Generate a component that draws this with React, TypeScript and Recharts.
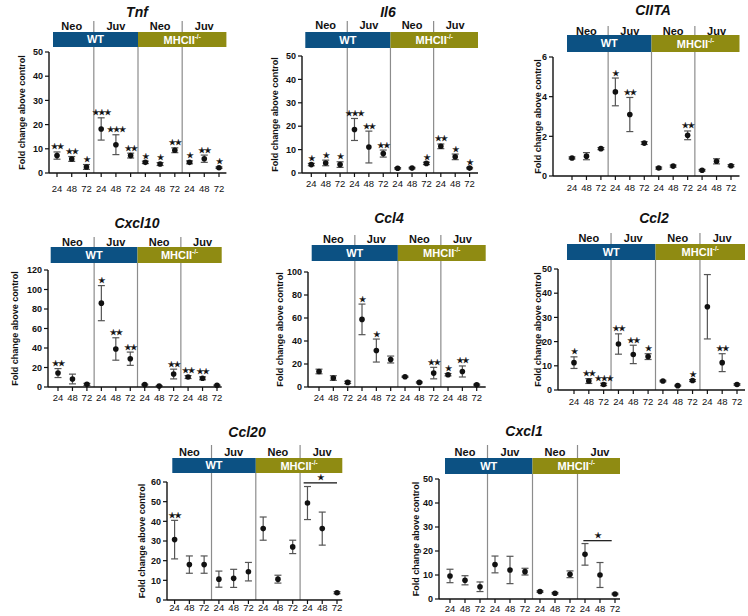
import React from 'react';
import { ComposedChart, Scatter, ErrorBar, XAxis, YAxis, ReferenceArea, ReferenceLine } from 'recharts';

const timeLabels = ['24', '48', '72'];
const stageLabels = ['Neo', 'Juv', 'Neo', 'Juv'];
const positions = [1, 2, 3, 4, 5, 6, 7, 8, 9, 10, 11, 12];

const tnfMean = [7.2, 5.8, 2.5, 18.2, 11.7, 7.2, 4.4, 3.7, 9.4, 4.4, 5.9, 2.2];
const tnfErr = [1.5, 1.0, 1.0, 4.6, 4.1, 1.0, 0.5, 0.6, 1.0, 0.6, 1.5, 0.3];
const tnfSig = ['**', '**', '*', '***', '***', '**', '*', '*', '**', '*', '**', '*'];

const il6Mean = [3.6, 4.3, 3.6, 18.6, 11.1, 8.3, 2.0, 2.1, 4.1, 11.4, 6.9, 2.1];
const il6Err = [0.5, 1.2, 1.2, 4.7, 6.8, 1.5, 0.3, 0.3, 0.5, 1.0, 1.2, 0.3];
const il6Sig = ['*', '*', '*', '***', '**', '**', '', '', '*', '**', '*', '*'];

const ciitaMean = [0.91, 1.0, 1.38, 4.24, 3.1, 1.66, 0.4, 0.5, 2.05, 0.29, 0.74, 0.52];
const ciitaErr = [0.05, 0.18, 0.05, 0.7, 0.86, 0.07, 0.05, 0.05, 0.22, 0.04, 0.13, 0.05];
const ciitaSig = ['', '', '', '*', '**', '', '', '', '**', '', '', ''];

const cxcl10Mean = [14.3, 8.2, 2.7, 86, 39, 29, 2.4, 1.0, 13.3, 10.2, 8.9, 1.7];
const cxcl10Err = [4.6, 5, 1, 18, 11.5, 6.8, 0.5, 0.3, 5, 1.5, 1.5, 0.4];
const cxcl10Sig = ['**', '', '', '*', '**', '**', '', '', '**', '**', '**', ''];

const ccl4Mean = [13.5, 7.8, 4.0, 58.8, 31.7, 23.9, 8.9, 4.0, 12.1, 10.7, 13.5, 2.0];
const ccl4Err = [2, 2, 1, 13.3, 10, 3, 0.5, 0.5, 5, 1, 4.8, 0.5];
const ccl4Sig = ['', '', '', '*', '*', '', '', '', '**', '*', '**', ''];

const ccl2Mean = [11.3, 3.7, 2.3, 19, 14.7, 13.8, 3.7, 1.8, 3.9, 34.4, 11.3, 2.3];
const ccl2Err = [2.4, 1, 0.5, 4.2, 3.8, 1.2, 0.3, 0.2, 0.4, 13.3, 3.7, 0.3];
const ccl2Sig = ['*', '**', '***', '**', '**', '*', '', '', '*', '', '**', ''];

const ccl20Mean = [30.7, 18, 18, 10.6, 11, 14.4, 36.3, 10.6, 27, 49.3, 36.3, 3.7];
const ccl20Err = [9.8, 4.4, 4.4, 4.1, 4.6, 4.7, 5.9, 2, 3.4, 8.4, 8.4, 0.5];
const ccl20Sig = ['**', '', '', '', '', '', '', '', '', '', '', ''];
const ccl20Bracket = { x1: 9.74, x2: 12, y: 59.6, s: '*' };

const cxcl1Mean = [9.6, 7.8, 5.1, 14.4, 12.1, 11.4, 3.1, 2.4, 10.3, 18.6, 10.0, 2.1];
const cxcl1Err = [2.8, 1.9, 2.0, 3.5, 5.7, 1.4, 0.3, 0.3, 1.4, 4.5, 5.2, 0.3];
const cxcl1Sig = ['', '', '', '', '', '', '', '', '', '', '', ''];
const cxcl1Bracket = { x1: 9.89, x2: 11.78, y: 24.3, s: '*' };

const BLUE = '#0c5183';
const OLIVE = '#8f8b12';
const GRID = '#8c8c8c';
const INK = '#111111';
const FONT = '"Liberation Sans", Arial, sans-serif';

// layout (pixel geometry of each panel on the page)
const layouts: any = {
  Tnf: { axisX: 49.3, c1: 57.3, c12: 219.3, bandL: 53.3, bandR: 226.7, top: 52, bottom: 173, band: [5, 20], neo: 26, divTop: 31, titleX: 137, titleY: 12, ylabelX: 22, xlab: 16 },
  Il6: { axisX: 301.7, c1: 311, c12: 469.3, bandL: 305, bandR: 477.7, top: 56, bottom: 173, band: [8, 24], neo: 31, divTop: 35, titleX: 388, titleY: 12, ylabelX: 275, xlab: 11 },
  CIITA: { axisX: 553, c1: 572, c12: 731, bandL: 567, bandR: 739.5, top: 57, bottom: 176, band: [5, 22], neo: 26, divTop: 31, titleX: 653, titleY: 10, ylabelX: 538, xlab: 12 },
  Cxcl10: { axisX: 48.3, c1: 58.3, c12: 217.3, bandL: 51, bandR: 222, top: 270, bottom: 387, band: [7, 23], neo: 28, divTop: 33, titleX: 137, titleY: 223, ylabelX: 15, xlab: 11 },
  Ccl4: { axisX: 308.3, c1: 319.3, c12: 477, bandL: 312, bandR: 486, top: 272, bottom: 387, band: [11, 27], neo: 33, divTop: 37, titleX: 389, titleY: 218, ylabelX: 280, xlab: 11 },
  Ccl2: { axisX: 558, c1: 574, c12: 737, bandL: 567, bandR: 745, top: 269, bottom: 390, band: [9, 25], neo: 31, divTop: 36, titleX: 654, titleY: 218, ylabelX: 538, xlab: 12 },
  Ccl20: { axisX: 166.7, c1: 174.3, c12: 336.7, bandL: 172, bandR: 342, top: 482, bottom: 600, band: [9, 24], neo: 30, divTop: 37, titleX: 247, titleY: 432, ylabelX: 142, xlab: 8 },
  Cxcl1: { axisX: 439, c1: 450, c12: 615, bandL: 445, bandR: 620, top: 479, bottom: 599, band: [5, 21], neo: 27, divTop: 34, titleX: 524, titleY: 431, ylabelX: 416, xlab: 9.5 },
};

const panels = [
  { name: 'Tnf', mean: tnfMean, err: tnfErr, sig: tnfSig, ymax: 50, yTicks: [0, 10, 20, 30, 40, 50] },
  { name: 'Il6', mean: il6Mean, err: il6Err, sig: il6Sig, ymax: 50, yTicks: [0, 10, 20, 30, 40, 50] },
  { name: 'CIITA', mean: ciitaMean, err: ciitaErr, sig: ciitaSig, ymax: 6, yTicks: [0, 2, 4, 6] },
  { name: 'Cxcl10', mean: cxcl10Mean, err: cxcl10Err, sig: cxcl10Sig, ymax: 120, yTicks: [0, 20, 40, 60, 80, 100, 120] },
  { name: 'Ccl4', mean: ccl4Mean, err: ccl4Err, sig: ccl4Sig, ymax: 100, yTicks: [0, 20, 40, 60, 80, 100] },
  { name: 'Ccl2', mean: ccl2Mean, err: ccl2Err, sig: ccl2Sig, ymax: 50, yTicks: [0, 10, 20, 30, 40, 50] },
  { name: 'Ccl20', mean: ccl20Mean, err: ccl20Err, sig: ccl20Sig, ymax: 60, yTicks: [0, 10, 20, 30, 40, 50, 60], bracket: ccl20Bracket },
  { name: 'Cxcl1', mean: cxcl1Mean, err: cxcl1Err, sig: cxcl1Sig, ymax: 50, yTicks: [0, 10, 20, 30, 40, 50], bracket: cxcl1Bracket },
];

const toStars = (s: string) => s.replace(/\*/g, '\u2605');

const DotShape = (props: any) => <circle cx={props.cx} cy={props.cy} r={2.8} fill={INK} />;
const StarShape = (props: any) => (
  <text
    x={props.cx}
    y={props.cy - 2.5}
    textAnchor="middle"
    fontSize={8}
    letterSpacing={-1.2}
    fill={INK}
    stroke={INK}
    strokeWidth={0.3}
    fontFamily='"DejaVu Sans", sans-serif'
  >
    {toStars(props.payload.s)}
  </text>
);

function Panel({ p }: any) {
  const L = layouts[p.name];
  const yw = 46, mt = 50;
  const tickSize = 4;
  const tickMargin = Math.max(0, L.xlab - tickSize - 3.5);
  const xh = L.xlab + 10;
  const CL = L.axisX - yw;
  const CT = L.top - mt;
  const W = Math.ceil(L.bandR + 3 - CL);
  const H = Math.ceil(L.bottom + xh - CT);
  const s = (L.c12 - L.c1) / 11;
  const xMin = 1 - (L.c1 - L.axisX) / s;
  const xMax = 12 + (L.bandR - L.c12) / s;
  const bandX0 = 1 - (L.c1 - L.bandL) / s;
  const plotH = L.bottom - L.top;
  const yAt = (px: number) => p.ymax * (1 + px / plotH);

  const pts = positions.map((x, i) => ({ x, y: p.mean[i], err: p.err[i] }));
  const sigPts = positions
    .map((x, i) => ({ x, y: p.mean[i] + p.err[i], s: p.sig[i] }))
    .filter((d) => d.s !== '');
  const bracketPts = p.bracket ? [{ x: (p.bracket.x1 + p.bracket.x2) / 2, y: p.bracket.y, s: p.bracket.s }] : [];

  const yLabelX = L.ylabelX - CL;
  const yLabelY = (L.top + L.bottom) / 2 - CT;

  const groups = [0.5, 3.5, 6.5, 9.5];
  const bandLo = yAt(L.band[0]);
  const bandHi = yAt(L.band[1]);

  return (
    <div style={{ position: 'absolute', left: CL, top: CT, width: W, height: H }}>
      <ComposedChart
        width={W}
        height={H}
        margin={{ top: mt, right: CL + W - L.bandR, left: 0, bottom: H - (L.bottom - CT) - xh }}
      >
        <XAxis
          type="number"
          dataKey="x"
          domain={[xMin, xMax]}
          ticks={positions}
          interval={0}
          height={xh}
          tickFormatter={(v: number) => timeLabels[(v - 1) % 3]}
          tick={{ fontSize: 9.5, fill: INK, fontFamily: FONT }}
          tickSize={tickSize}
          tickMargin={tickMargin}
          tickLine={{ stroke: INK, strokeWidth: 1.2 }}
          axisLine={{ stroke: INK, strokeWidth: 1.4 }}
        />
        <YAxis
          type="number"
          dataKey="y"
          domain={[0, p.ymax]}
          ticks={p.yTicks}
          interval={0}
          width={yw}
          tick={{ fontSize: 9, fill: INK, fontWeight: 700, fontFamily: FONT }}
          tickSize={4}
          tickLine={{ stroke: INK, strokeWidth: 1.2 }}
          axisLine={{ stroke: INK, strokeWidth: 1.4 }}
          label={() => (
            <text
              x={yLabelX}
              y={yLabelY}
              transform={`rotate(-90, ${yLabelX}, ${yLabelY})`}
              textAnchor="middle"
              dominantBaseline="central"
              fontSize={9}
              fontWeight={700}
              fill={INK}
              fontFamily={FONT}
            >
              Fold change above control
            </text>
          )}
        />
        {[3.5, 6.5, 9.5].map((d) => (
          <ReferenceLine
            key={'dl' + d}
            segment={[{ x: d, y: 0 }, { x: d, y: bandLo }]}
            stroke={GRID}
            strokeWidth={1.2}
            ifOverflow="visible"
          />
        ))}
        {[3.5, 9.5].map((d) => (
          <ReferenceLine
            key={'du' + d}
            segment={[{ x: d, y: bandHi }, { x: d, y: yAt(L.divTop) }]}
            stroke={GRID}
            strokeWidth={1.2}
            ifOverflow="visible"
          />
        ))}
        <ReferenceArea
          x1={bandX0}
          x2={6.5}
          y1={bandLo}
          y2={bandHi}
          fill={BLUE}
          fillOpacity={1}
          stroke="none"
          ifOverflow="visible"
          label={{ value: 'WT', position: 'center', fill: '#ffffff', fontSize: 11, fontWeight: 700, fontFamily: FONT }}
        />
        <ReferenceArea
          x1={6.5}
          x2={xMax}
          y1={bandLo}
          y2={bandHi}
          fill={OLIVE}
          fillOpacity={1}
          stroke="none"
          ifOverflow="visible"
          label={(props: any) => {
            const vb = props.viewBox || props;
            const cx = vb.x + vb.width / 2;
            const cy = vb.y + vb.height / 2;
            return (
              <text x={cx} y={cy} textAnchor="middle" dominantBaseline="central" fill="#ffffff" fontSize={11} fontWeight={700} fontFamily={FONT}>
                MHCII
                <tspan fontSize={6.5} dy={-4}>-/-</tspan>
              </text>
            );
          }}
        />
        {groups.map((g, i) => (
          <ReferenceArea
            key={'g' + i}
            x1={g}
            x2={g + 3}
            y1={yAt(L.neo - 6)}
            y2={yAt(L.neo + 6)}
            fill="none"
            fillOpacity={0}
            stroke="none"
            ifOverflow="visible"
            label={{ value: stageLabels[i], position: 'center', fill: INK, fontSize: 11, fontWeight: 700, fontFamily: FONT }}
          />
        ))}
        {p.bracket ? (
          <ReferenceLine
            segment={[{ x: p.bracket.x1, y: p.bracket.y }, { x: p.bracket.x2, y: p.bracket.y }]}
            stroke={INK}
            strokeWidth={1.2}
            ifOverflow="visible"
          />
        ) : null}
        <Scatter data={pts} dataKey="y" shape={DotShape} isAnimationActive={false}>
          <ErrorBar dataKey="err" direction="y" width={3.5} stroke="#555555" strokeWidth={1.2} isAnimationActive={false} />
        </Scatter>
        <Scatter data={sigPts} dataKey="y" shape={StarShape} isAnimationActive={false} />
        {bracketPts.length ? <Scatter data={bracketPts} dataKey="y" shape={StarShape} isAnimationActive={false} /> : null}
      </ComposedChart>
    </div>
  );
}

export default function App() {
  return (
    <div style={{ position: 'absolute', left: 0, top: 0, width: 748, height: 616, overflow: 'hidden', background: '#ffffff' }}>
      {panels.map((p) => (
        <Panel key={p.name} p={p} />
      ))}
      {panels.map((p) => {
        const L = layouts[p.name];
        return (
          <div
            key={'t' + p.name}
            style={{
              position: 'absolute',
              left: L.titleX,
              top: L.titleY,
              transform: 'translate(-50%, -50%)',
              fontFamily: FONT,
              fontStyle: 'italic',
              fontWeight: 700,
              fontSize: 14,
              color: INK,
              whiteSpace: 'nowrap',
              lineHeight: 1,
            }}
          >
            {p.name}
          </div>
        );
      })}
    </div>
  );
}
